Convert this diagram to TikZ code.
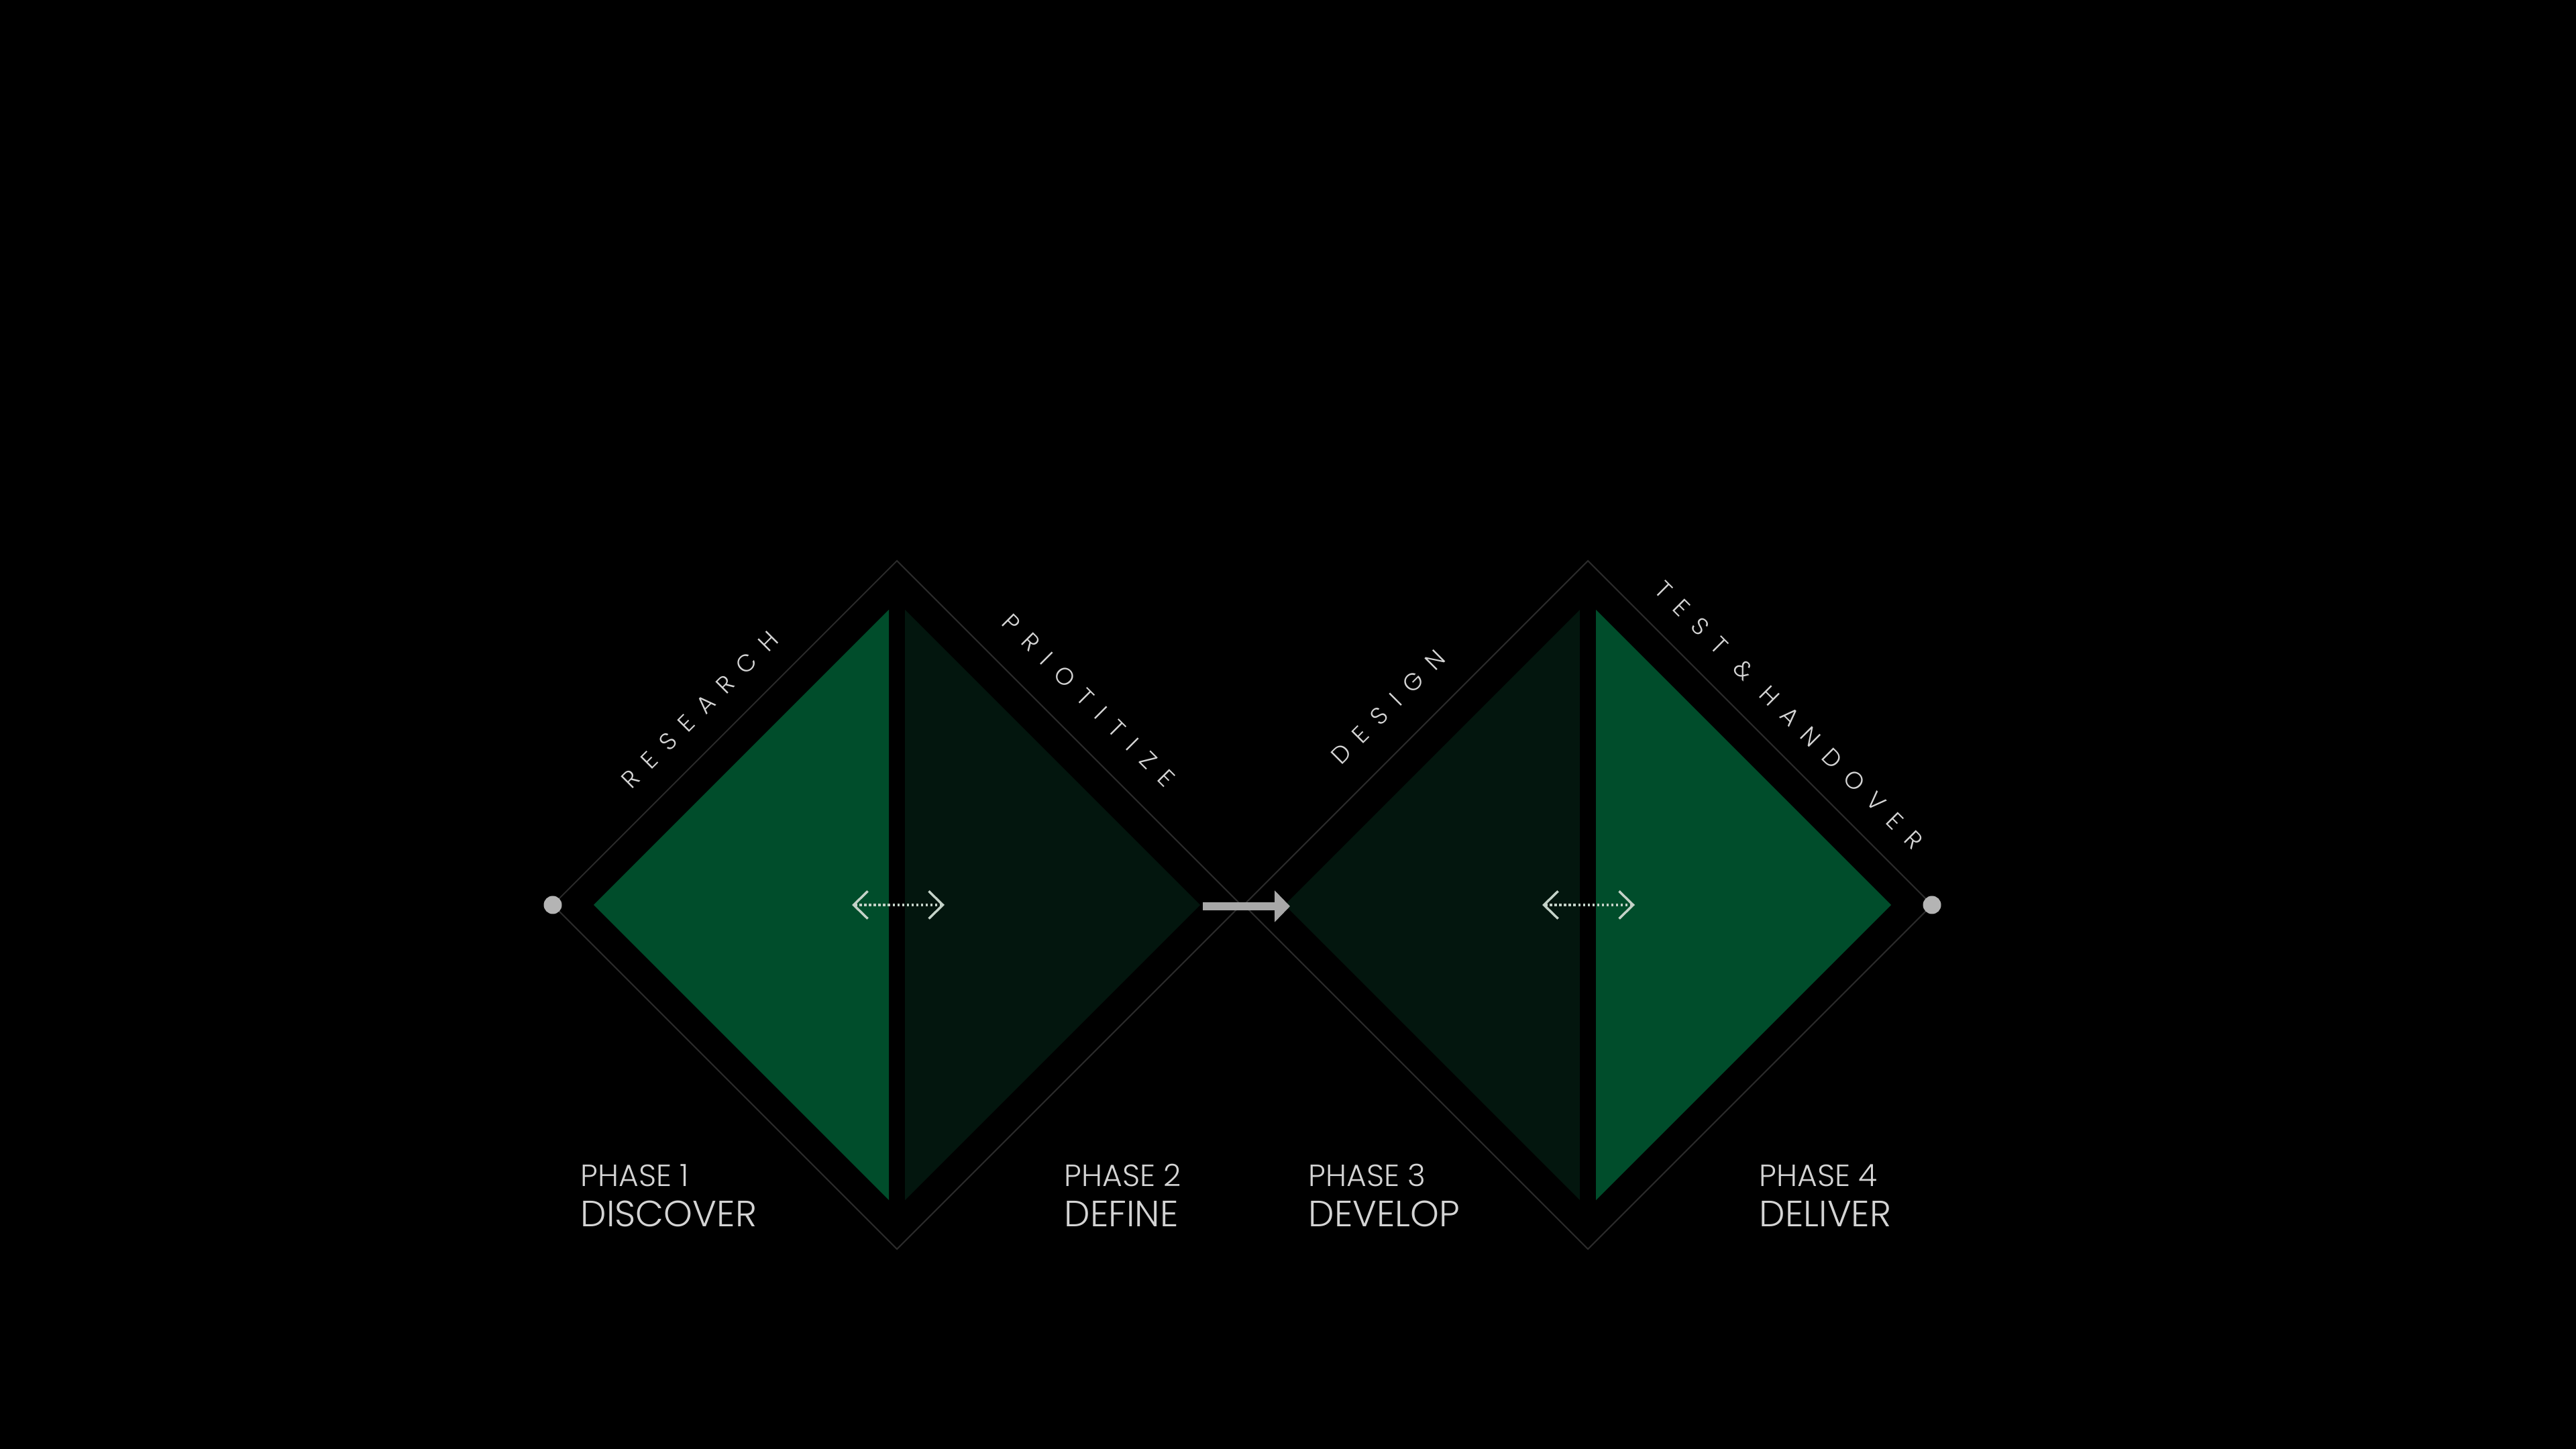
\documentclass[tikz,border=0pt]{standalone}
\usepackage{fontspec}
\setmainfont{Poppins Light}
\newfontfamily\trackfont{Poppins Light}[LetterSpace=55]
\usepackage{tikz}
\usetikzlibrary{arrows.meta}
\definecolor{brightgreen}{HTML}{004D2B}
\definecolor{dimgreen}{HTML}{03160E}
\definecolor{rimgray}{HTML}{2A2A2A}
\definecolor{inkgray}{HTML}{D4D4D4}
\definecolor{pointergray}{HTML}{A8A8A8}
\definecolor{dotgray}{HTML}{B4B4B4}
\definecolor{swapgray}{HTML}{C4D2C8}
\tikzset{
  phase/.style={anchor=base west, inner sep=0, text=inkgray, font=\fontsize{13}{15}\selectfont},
  stage/.style={anchor=base west, inner sep=0, text=inkgray, font=\fontsize{15.5}{18}\selectfont},
  track/.style={anchor=base, inner sep=0, text=inkgray, font={\trackfont\fontsize{10.2}{12}\selectfont}},
  enddot/.style={circle, fill=dotgray, inner sep=0, minimum size=0.27cm},
  barbs/.style={{Straight Barb[length=0.21cm, width=0.41cm]}-{Straight Barb[length=0.21cm, width=0.41cm]}}
}

\begin{document}
\begin{tikzpicture}
\fill[black] (0,0) rectangle (38.4,21.6);
\useasboundingbox (0,0) rectangle (38.4,21.6);
% outer corners
\coordinate (w1) at (8.24,8.11);
\coordinate (n1) at (13.37,13.24);
\coordinate (e1) at (18.50,8.11);
\coordinate (s1) at (13.37,2.98);
\coordinate (w2) at (18.54,8.11);
\coordinate (n2) at (23.67,13.24);
\coordinate (e2) at (28.80,8.11);
\coordinate (s2) at (23.67,2.98);
% arrow ends
\coordinate (go1) at (17.93,8.09);
\coordinate (go2) at (19.23,8.09);
\coordinate (sl1) at (12.70,8.11);
\coordinate (sr1) at (14.08,8.11);
\coordinate (sl2) at (22.99,8.11);
\coordinate (sr2) at (24.37,8.11);
% draws halves
\fill[brightgreen] (8.85,8.11) -- (13.25,12.51) -- (13.25,3.71) -- cycle;
\fill[dimgreen] (13.49,12.51) -- (17.89,8.11) -- (13.49,3.71) -- cycle;
\fill[dimgreen] (19.15,8.11) -- (23.55,12.51) -- (23.55,3.71) -- cycle;
\fill[brightgreen] (23.79,12.51) -- (28.19,8.11) -- (23.79,3.71) -- cycle;
% draws outlines
\begin{scope}[rimgray, line width=0.6pt]
\draw (w1) -- (n1) -- (e1) -- (s1) -- cycle;
\draw (w2) -- (n2) -- (e2) -- (s2) -- cycle;
\end{scope}
% draws end points
\node[enddot] (start) at (w1) {};
\node[enddot] (finish) at (e2) {};
% draws arrows
\draw[pointergray, line width=0.12cm, -{Triangle[length=0.23cm, width=0.46cm]}] (go1) -- (go2);
\begin{scope}[swapgray, line width=1pt, densely dotted]
\draw[barbs] (sl1) -- (sr1);
\draw[barbs] (sl2) -- (sr2);
\end{scope}
% labels edges
\node[track, rotate=45] (research) at (10.52,10.93) {RESEARCH};
\node[track, rotate=-45] (prioritize) at (16.14,11.07) {PRIOTITIZE};
\node[track, rotate=45] (design) at (20.78,10.97) {DESIGN};
\node[track, rotate=-45] (handover) at (26.58,10.85) {TEST \& HANDOVER};
% labels phases
\node[phase] (p1) at (8.65,3.91) {PHASE 1};
\node[stage] (discover) at (8.65,3.31) {DISCOVER};
\node[phase] (p2) at (15.86,3.91) {PHASE 2};
\node[stage] (define) at (15.86,3.31) {DEFINE};
\node[phase] (p3) at (19.50,3.91) {PHASE 3};
\node[stage] (develop) at (19.50,3.31) {DEVELOP};
\node[phase] (p4) at (26.22,3.91) {PHASE 4};
\node[stage] (deliver) at (26.22,3.31) {DELIVER};
\end{tikzpicture}
\end{document}
